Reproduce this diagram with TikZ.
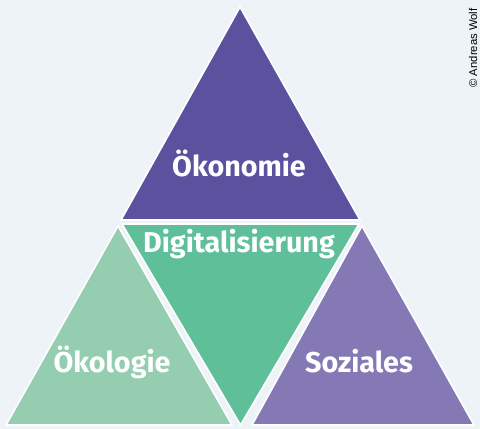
\documentclass[tikz,border=0pt]{standalone}
\usepackage{fontspec}
\setmainfont{Fira Sans}
\newfontfamily\credfont{Liberation Sans}
\definecolor{bgc}{HTML}{EEF3F8}
\definecolor{oeko}{HTML}{5B529F}
\definecolor{digi}{HTML}{5EBF98}
\definecolor{oekol}{HTML}{95CDB1}
\definecolor{sozi}{HTML}{8479B5}
\tikzset{
  tri/.style={draw=white, line width=1.6pt, line join=miter},
  lbl/.style={text=white, font=\fontsize{28.7}{30}\selectfont\bfseries, anchor=base, inner sep=0pt},
  cred/.style={font=\credfont\fontsize{11.3}{13}\selectfont, rotate=90, anchor=center, inner sep=0pt}
}
\begin{document}
\begin{tikzpicture}[x=1pt,y=-1pt]
\fill[bgc] (0,0) rectangle (480,429);
\useasboundingbox (0,0) rectangle (480,429);
\draw[tri, fill=oeko] (240,7) -- (360,220) -- (121,220) -- cycle;
\draw[tri, fill=digi] (122,224) -- (359,224) -- (240.5,425) -- cycle;
\draw[tri, fill=oekol] (118,226) -- (232,425) -- (6,425) -- cycle;
\draw[tri, fill=sozi] (362,226) -- (474,425) -- (252,425) -- cycle;
\node[lbl] (oek) at (239,176) {Ökonomie};
\node[lbl] (dig) at (239,252) {Digitalisierung};
\node[lbl] (okl) at (112,372) {Ökologie};
\node[lbl] (soz) at (359,372) {Soziales};
\node[cred] (cr) at (473,48) {© Andreas Wolf};
\end{tikzpicture}
\end{document}
